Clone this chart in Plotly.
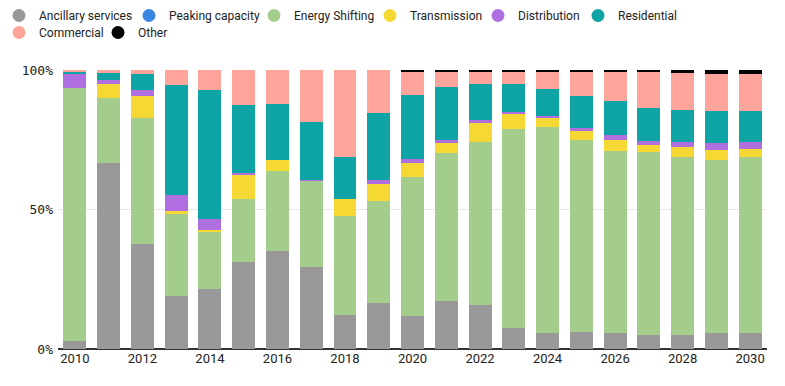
import plotly.graph_objects as go

years = list(range(2010, 2031))
series_names = ["Ancillary services", "Peaking capacity", "Energy Shifting", "Transmission",
                "Distribution", "Residential", "Commercial", "Other"]
colors = ["#999999", "#3b86e1", "#a4cd8b", "#f5d833", "#b06fe0", "#0ea4a6", "#fea49b", "#000000"]

ancillary = [3.0, 66.7, 37.7, 19.1, 21.6, 31.3, 35.2, 29.5, 12.3, 16.6, 11.9,
             17.3, 15.9, 7.6, 5.8, 6.2, 5.8, 5.1, 5.1, 5.8, 5.8]
peaking = [0] * 21
energy_shifting = [90.6, 23.3, 45.1, 29.3, 20.5, 22.5, 28.6, 30.8, 35.4, 36.5, 49.8,
                   53.0, 58.3, 71.3, 73.8, 68.7, 65.2, 65.5, 63.7, 62.0, 63.0]
transmission = [0.0, 5.0, 7.9, 1.1, 0.4, 8.6, 4.0, 0.0, 6.1, 6.1, 5.0,
                3.6, 6.8, 5.3, 3.2, 3.2, 3.9, 2.5, 3.6, 3.5, 2.9]
distribution = [5.0, 1.4, 2.1, 5.7, 4.2, 0.7, 0.0, 0.4, 0.0, 1.4, 1.4,
                1.1, 1.1, 0.8, 0.7, 1.1, 1.8, 1.5, 1.8, 2.6, 2.5]
residential = [1.0, 2.5, 5.8, 39.4, 46.1, 24.4, 20.0, 20.7, 15.1, 24.0, 22.9,
               18.9, 12.9, 10.0, 9.7, 11.5, 12.2, 11.8, 11.5, 11.4, 11.1]
commercial = [0.4, 1.1, 1.4, 5.4, 7.2, 12.5, 12.2, 18.6, 31.1, 15.4, 8.3,
              5.4, 4.3, 4.3, 6.1, 8.6, 10.4, 12.9, 13.2, 13.3, 13.3]
other = [0, 0, 0, 0, 0, 0, 0, 0, 0, 0, 0.7,
         0.7, 0.7, 0.7, 0.7, 0.7, 0.7, 0.7, 1.1, 1.4, 1.4]

all_series = [ancillary, peaking, energy_shifting, transmission, distribution,
              residential, commercial, other]

W, H = 777, 378  # page body has an 8px margin
ML, MR, MT, MB = 50, 18, 62, 37
PW, PH = W - ML - MR, H - MT - MB

fig = go.Figure()
for name, vals, col in zip(series_names, all_series, colors):
    fig.add_trace(go.Bar(x=years, y=vals, name=name, marker=dict(color=col, line=dict(width=0)),
                         showlegend=False))

# legend layout: one legend per entry, two rows (left edge in figure px)
legend_px = [-9, 121, 246, 362, 470, 570, -9, 90]
legend_row = [0, 0, 0, 0, 0, 0, 1, 1]
row_top_px = [-7, 10]

legend_font = dict(family="Roboto, sans-serif", size=12, color="#222222")
layout_legends = {}
for i, (name, col) in enumerate(zip(series_names, colors)):
    key = "legend" if i == 0 else f"legend{i + 1}"
    fig.add_trace(go.Scatter(x=[None], y=[None], mode="markers", name=name,
                             marker=dict(color=col, size=13, symbol="circle"),
                             legend=key))
    layout_legends[key] = dict(orientation="h", x=(legend_px[i] - ML) / PW, xref="paper",
                               y=1 + (MT - row_top_px[legend_row[i]]) / PH, yref="paper",
                               xanchor="left", yanchor="top", font=legend_font,
                               itemclick=False, bgcolor="rgba(0,0,0,0)")

fig.update_layout(
    width=W, height=H,
    margin=dict(l=ML, r=MR, t=MT, b=MB, autoexpand=False),
    barmode="stack", bargap=0.32,
    plot_bgcolor="white", paper_bgcolor="white",
    xaxis=dict(tickmode="array", tickvals=years[::2], ticktext=[str(y) for y in years[::2]],
               showgrid=False, showline=False, ticks="",
               tickfont=dict(family="Liberation Sans Narrow, Roboto, sans-serif", size=13, color="#222222"),
               range=[2009.5, 2030.5]),
    yaxis=dict(range=[0, 100], tickmode="array", tickvals=[0, 50, 100],
               ticktext=["0%", "50%", "100%"],
               showgrid=True, gridcolor="#e6e6e6", gridwidth=1,
               zeroline=True, zerolinecolor="#333333", zerolinewidth=2,
               tickfont=dict(family="DejaVu Sans Mono, monospace", size=13, color="#222222"),
               ticklabelstandoff=4),
    **layout_legends,
)

fig.write_html("out.html")
